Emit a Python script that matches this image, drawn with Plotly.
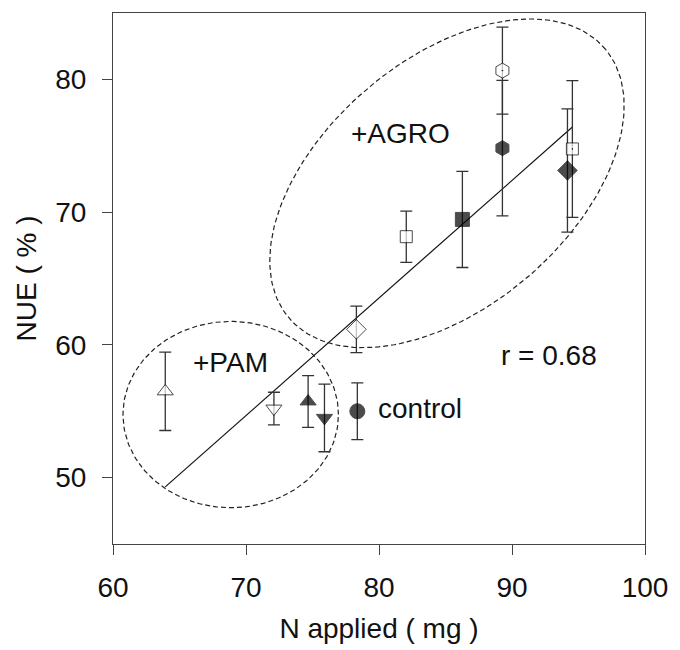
import numpy as np
import plotly.graph_objects as go

# ---- data ----
n_applied = [63.93, 72.1, 74.67, 75.9, 78.37, 78.3, 82.05, 86.27, 89.28, 89.28, 94.54, 94.17]
nue_mean = [56.5, 55.2, 55.74, 54.5, 55.0, 61.17, 68.15, 69.45, 80.66, 74.82, 74.76, 73.14]
nue_err = [2.95, 1.23, 1.95, 2.55, 2.13, 1.75, 1.93, 3.62, 3.28, 5.11, 5.15, 4.64]
symbols = ["triangle-up", "triangle-down", "triangle-up", "triangle-down", "circle",
           "diamond", "square", "square", "hexagon-dot", "hexagon", "square-dot", "diamond"]
fills = ["white", "white", "black", "black", "black",
         "white", "white", "black", "white", "black", "white", "black"]
sizes = [14, 14, 14, 14, 15, 15, 12, 14, 15, 15, 12, 15]

x_ticks = [60, 70, 80, 90, 100]
y_ticks = [50, 60, 70, 80]

# group outlines: (center x, center y, semi-axis a, semi-axis b, tilt deg)
ellipse_pam = (68.85, 54.75, 8.1, 6.95, 0.0)
ellipse_agro = (85.11, 72.17, 15.56, 9.26, 40.0)

fig = go.Figure()

def ellipse_xy(cx, cy, a, b, tilt, n=200):
    t = np.linspace(0, 2 * np.pi, n)
    th = np.deg2rad(tilt)
    k = 13.5 / 13.37  # px per unit x / px per unit y
    xs = cx + a * np.cos(th) * np.cos(t) - b * np.sin(th) * np.sin(t)
    ys = cy + (a * np.sin(th) * np.cos(t) + b * np.cos(th) * np.sin(t)) * k
    return xs, ys

for e in (ellipse_pam, ellipse_agro):
    ex, ey = ellipse_xy(*e)
    fig.add_trace(go.Scatter(x=ex, y=ey, mode="lines",
                             line=dict(color="#222", width=1.2, dash="5px,3px"),
                             hoverinfo="skip", showlegend=False))

# regression line
coef = np.polyfit(n_applied, nue_mean, 1)
lx = np.array([min(n_applied), max(n_applied)])
fig.add_trace(go.Scatter(x=lx, y=np.polyval(coef, lx), mode="lines",
                         line=dict(color="#111", width=1.2), showlegend=False))

fig.add_trace(go.Scatter(
    x=n_applied, y=nue_mean, mode="markers",
    error_y=dict(type="data", array=nue_err, visible=True, color="#333",
                 thickness=1.3, width=6),
    marker=dict(symbol=symbols, color=fills, size=sizes,
                line=dict(color="black", width=1)),
    showlegend=False))

font_family = "Liberation Sans, Arial, sans-serif"
ann_font = dict(family=font_family, size=28, color="#111")
fig.add_annotation(x=81.6, y=75.9, text="+AGRO", showarrow=False, font=ann_font)
fig.add_annotation(x=68.8, y=58.7, text="+PAM", showarrow=False, font=ann_font)
fig.add_annotation(x=79.8, y=55.2, text="control", showarrow=False, font=ann_font,
                   xanchor="left")
fig.add_annotation(x=92.8, y=59.2, text="r = 0.68", showarrow=False, font=ann_font)

axis_common = dict(showgrid=False, zeroline=False, showline=True, linecolor="#444",
                   linewidth=1.2, mirror=True, ticks="outside", ticklen=10,
                   tickwidth=1.2, tickcolor="#444",
                   tickfont=dict(family=font_family, size=28, color="#111"))

fig.update_layout(
    width=680, height=650,
    margin=dict(l=113, r=26, t=12, b=104),
    paper_bgcolor="white", plot_bgcolor="white",
    xaxis=dict(range=[60, 100], tickvals=x_ticks, ticklabelstandoff=8, **axis_common,
               title=dict(text="N applied ( mg )", standoff=16,
                          font=dict(family=font_family, size=28, color="#111"))),
    yaxis=dict(range=[45, 85], tickvals=y_ticks, ticklabelstandoff=10, **axis_common,
               title=dict(text="NUE ( % )", standoff=10,
                          font=dict(family=font_family, size=28, color="#111"))),
)

fig.write_html("out.html", config={"displayModeBar": False},
               post_script="document.body.style.margin='0';document.body.style.overflow='hidden';")
